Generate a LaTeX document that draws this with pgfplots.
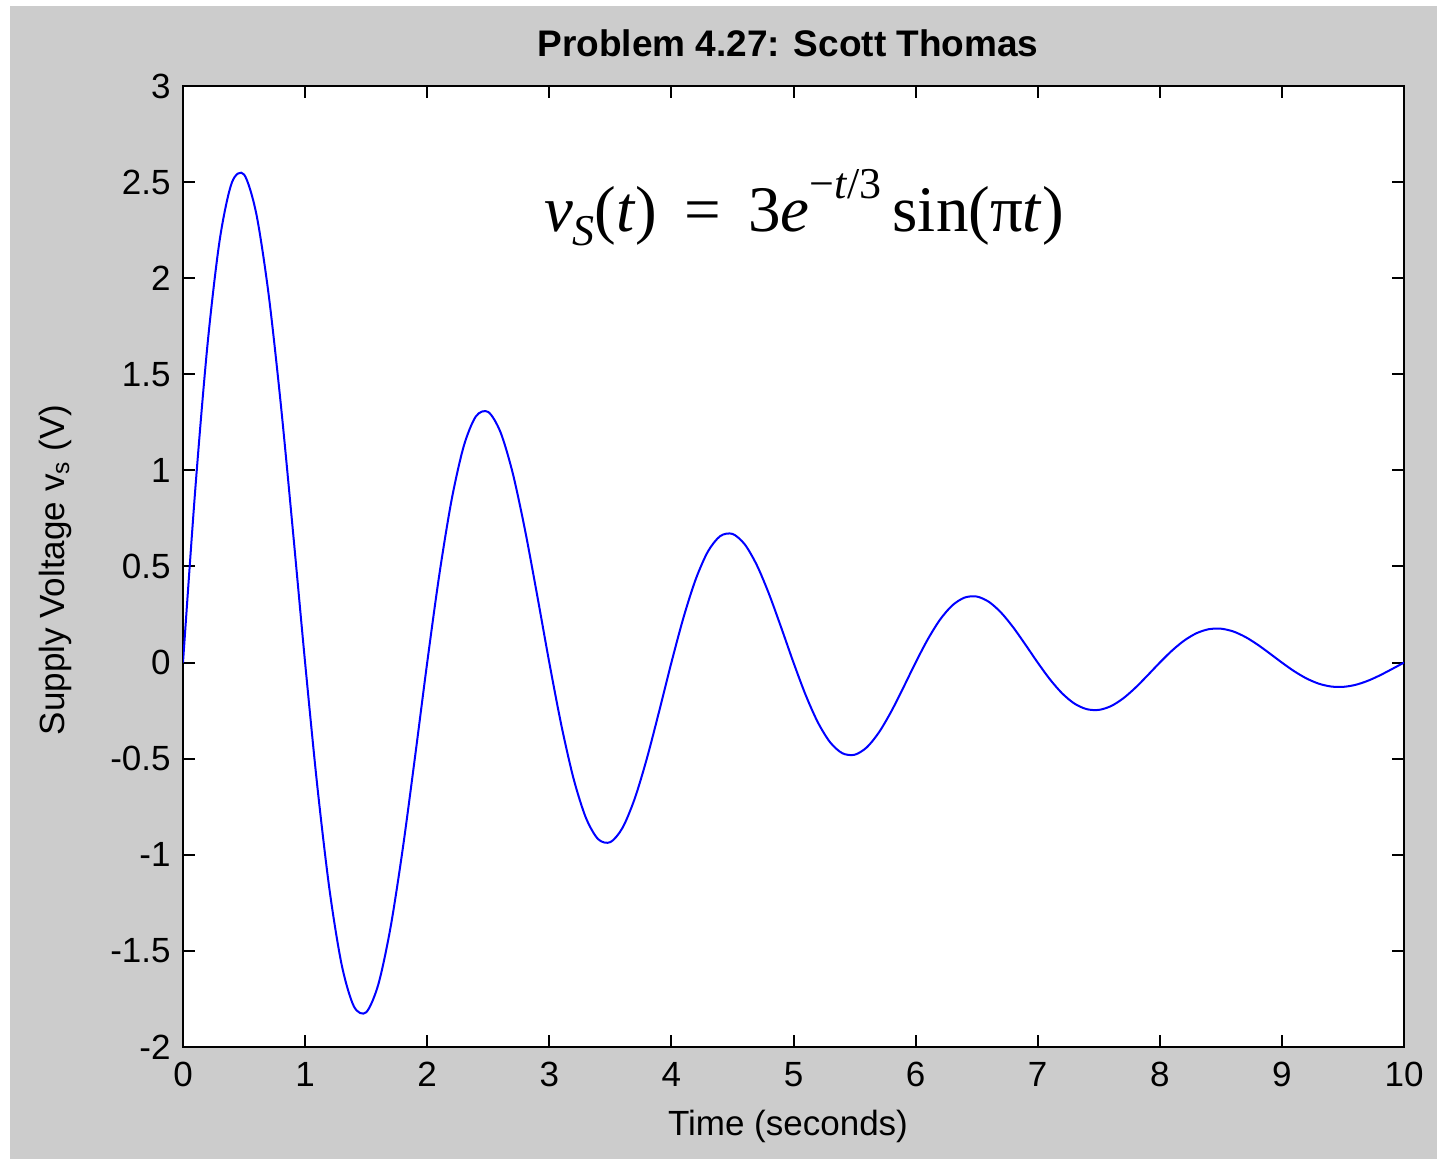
\documentclass[border=0pt]{standalone}
\usepackage{pgfplots}
\pgfplotsset{compat=1.18}
\usepackage{fontspec}
\setmainfont{Liberation Sans}
\newfontfamily\eqfont{Liberation Serif}
\definecolor{figgray}{RGB}{204,204,204}
\definecolor{mblue}{RGB}{0,0,255}
\begin{document}
\begin{tikzpicture}
\fill[white] (0pt,0pt) rectangle (718.5pt,579.5pt);
\fill[figgray] (5pt,0pt) rectangle (718.5pt,576.5pt);
\begin{axis}[
  at={(91.5pt,56pt)}, anchor=south west,
  scale only axis, width=610.5pt, height=480.5pt,
  xmin=0, xmax=10, ymin=-2, ymax=3,
  xtick={0,1,...,10},
  ytick={-2,-1.5,-1,-0.5,0,0.5,1,1.5,2,2.5,3},
  axis background/.style={fill=white},
  axis line style={line width=1.1pt, black},
  tick align=inside,
  major tick length=6pt,
  every tick/.style={black, line width=1pt},
  /pgf/number format/assume math mode=true,
  /pgf/number format/fixed,
  ticklabel style={font=\fontsize{17.5}{21}\selectfont},
  xticklabel style={anchor=north, inner sep=0pt, yshift=-7.5pt},
  yticklabel style={anchor=east, inner sep=0pt, xshift=-6pt},
  clip=true,
]
\addplot[mblue, line width=1pt, smooth] coordinates {
(0,0) (0.1,0.8967) (0.2,1.6496) (0.3,2.1961) (0.4,2.4970) (0.5,2.5394) (0.6,2.3360) (0.7,1.9220) (0.8,1.3506) (0.9,0.6868)
(1,0) (1.1,-0.6425) (1.2,-1.1820) (1.3,-1.5736) (1.4,-1.7892) (1.5,-1.8196) (1.6,-1.6738) (1.7,-1.3771) (1.8,-0.9677) (1.9,-0.4921)
(2,0) (2.1,0.4604) (2.2,0.8469) (2.3,1.1275) (2.4,1.2820) (2.5,1.3038) (2.6,1.1993) (2.7,0.9868) (2.8,0.6934) (2.9,0.3526)
(3,0) (3.1,-0.3299) (3.2,-0.6069) (3.3,-0.8079) (3.4,-0.9186) (3.5,-0.9342) (3.6,-0.8594) (3.7,-0.7070) (3.8,-0.4969) (3.9,-0.2527)
(4,0) (4.1,0.2364) (4.2,0.4348) (4.3,0.5789) (4.4,0.6582) (4.5,0.6694) (4.6,0.6158) (4.7,0.5066) (4.8,0.3560) (4.9,0.1810)
(5,0) (5.1,-0.1694) (5.2,-0.3116) (5.3,-0.4148) (5.4,-0.4716) (5.5,-0.4796) (5.6,-0.4412) (5.7,-0.3630) (5.8,-0.2551) (5.9,-0.1297)
(6,0) (6.1,0.1213) (6.2,0.2233) (6.3,0.2972) (6.4,0.3379) (6.5,0.3437) (6.6,0.3161) (6.7,0.2601) (6.8,0.1828) (6.9,0.0929)
(7,0) (7.1,-0.0870) (7.2,-0.1600) (7.3,-0.2130) (7.4,-0.2421) (7.5,-0.2463) (7.6,-0.2265) (7.7,-0.1864) (7.8,-0.1310) (7.9,-0.0666)
(8,0) (8.1,0.0623) (8.2,0.1146) (8.3,0.1526) (8.4,0.1735) (8.5,0.1764) (8.6,0.1623) (8.7,0.1335) (8.8,0.0938) (8.9,0.0477)
(9,0) (9.1,-0.0446) (9.2,-0.0821) (9.3,-0.1093) (9.4,-0.1243) (9.5,-0.1264) (9.6,-0.1163) (9.7,-0.0957) (9.8,-0.0672) (9.9,-0.0342)
(10,0)
};
\end{axis}
\node[font=\bfseries\fontsize{18.5}{22}\selectfont] at (394pt,558pt) {Problem 4.27: Scott Thomas};
\node[font=\fontsize{17.5}{21}\selectfont] at (394pt,16.5pt) {Time (seconds)};
\node[font=\fontsize{17.5}{21}\selectfont, rotate=90] at (27.5pt,294.5pt) {Supply Voltage v\textsubscript{s} (V)};
\node[font=\eqfont\fontsize{32.5}{38}\selectfont] at (402pt,475.5pt)
  {\textit{v}\raisebox{-0.22em}{\fontsize{22}{22}\selectfont\textit{S}}(\textit{t})\ \,=\ \,3\textit{e}\raisebox{0.5em}{\fontsize{22}{22}\selectfont −\textit{t}/3}\,sin(π\textit{t})};
\end{tikzpicture}
\end{document}
